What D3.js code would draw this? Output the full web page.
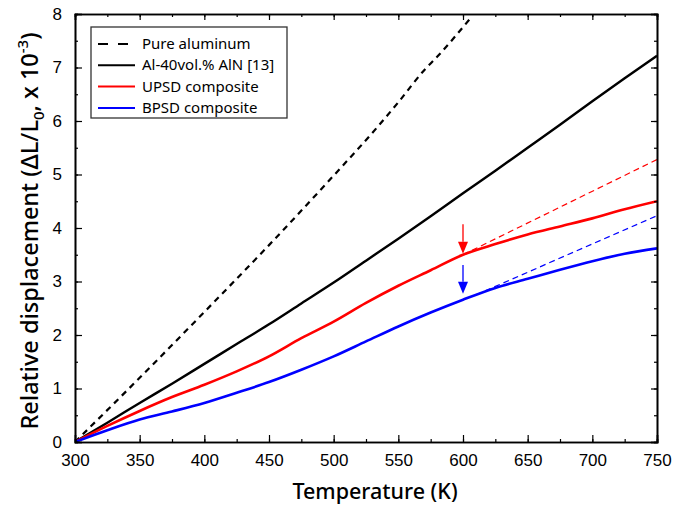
<!DOCTYPE html>
<html>
<head>
<meta charset="utf-8">
<script src="https://cdn.jsdelivr.net/npm/d3@7"></script>
<style>
  html, body { margin: 0; padding: 0; background: #fff; }
  svg { display: block; font-family: "Noto Sans", "Open Sans", sans-serif; }
</style>
</head>
<body>
<svg id="chart" width="689" height="509"></svg>
<script>
// Temperature grid (K) for the measured curves
const temps = [300, 325, 350, 375, 400, 425, 450, 475, 500, 525, 550, 575, 600, 625, 650, 675, 700, 725, 750];

// Pure aluminum (own temperature grid, stops near the top of the frame)
const pureAlTemps = [300, 350, 400, 450, 500, 535, 550, 570, 580, 605];
const pureAl      = [0, 1.20, 2.43, 3.68, 4.98, 5.92, 6.35, 6.95, 7.20, 7.90];

// Al-40vol.% AlN [13]
const alAlN = [0, 0.36, 0.73, 1.09, 1.46, 1.83, 2.20, 2.59, 2.98, 3.39, 3.80, 4.22, 4.65, 5.07, 5.50, 5.93, 6.37, 6.80, 7.22];
// UPSD composite
const upsd  = [0, 0.30, 0.58, 0.84, 1.07, 1.32, 1.60, 1.94, 2.25, 2.60, 2.92, 3.21, 3.50, 3.70, 3.88, 4.03, 4.18, 4.35, 4.50];
// BPSD composite
const bpsd  = [0, 0.22, 0.42, 0.57, 0.73, 0.92, 1.12, 1.35, 1.60, 1.88, 2.16, 2.42, 2.66, 2.88, 3.05, 3.22, 3.38, 3.52, 3.62];

// Linear extrapolations of the low-temperature behaviour
const upsdExtrapT = [600, 750];
const upsdExtrap  = [3.50, 5.28];
const bpsdExtrapT = [610, 750];
const bpsdExtrap  = [2.75, 4.23];

// Arrows marking the onset of deviation (temperature, start value, end value)
const arrowUpsd = [600, 4.07, 3.52];
const arrowBpsd = [600, 3.31, 2.77];

const xTicks = [300, 350, 400, 450, 500, 550, 600, 650, 700, 750];
const yTicks = [0, 1, 2, 3, 4, 5, 6, 7, 8];

const legendLabels = ["Pure aluminum", "Al-40vol.% AlN [13]", "UPSD composite", "BPSD composite"];
const legendColors = ["#000", "#000", "#ff0000", "#0000ff"];
const legendDash   = ["10,10", null, null, null];

const svg = d3.select("#chart");
const L = 75, R = 657, T = 14, B = 442;

const x = d3.scaleLinear().domain([300, 750]).range([L, R]);
const y = d3.scaleLinear().domain([0, 8]).range([B, T]);

const defs = svg.append("defs");
const clip = defs.append("clipPath").attr("id", "plotClip");
clip.append("rect").attr("x", L).attr("y", T).attr("width", R - L).attr("height", B - T);

const line = d3.line().x(d => x(d[0])).y(d => y(d[1])).curve(d3.curveMonotoneX);
const plot = svg.append("g").attr("clip-path", "url(#plotClip)");

// Extrapolation dashes
plot.append("path").datum(d3.zip(upsdExtrapT, upsdExtrap)).attr("d", line)
  .attr("fill", "none").attr("stroke", "#ff0000").attr("stroke-width", 1.2).attr("stroke-dasharray", "6,4");
plot.append("path").datum(d3.zip(bpsdExtrapT, bpsdExtrap)).attr("d", line)
  .attr("fill", "none").attr("stroke", "#0000ff").attr("stroke-width", 1.2).attr("stroke-dasharray", "6,4");

// Main curves
plot.append("path").datum(d3.zip(pureAlTemps, pureAl)).attr("d", line)
  .attr("fill", "none").attr("stroke", "#000").attr("stroke-width", 2.2).attr("stroke-dasharray", "6,5");
plot.append("path").datum(d3.zip(temps, alAlN)).attr("d", line)
  .attr("fill", "none").attr("stroke", "#000").attr("stroke-width", 2.4);
plot.append("path").datum(d3.zip(temps, upsd)).attr("d", line)
  .attr("fill", "none").attr("stroke", "#ff0000").attr("stroke-width", 2.6);
plot.append("path").datum(d3.zip(temps, bpsd)).attr("d", line)
  .attr("fill", "none").attr("stroke", "#0000ff").attr("stroke-width", 2.6);

// Arrows
[[arrowUpsd, "#ff0000"], [arrowBpsd, "#0000ff"]].forEach(([a, c]) => {
  svg.append("line")
    .attr("x1", x(a[0])).attr("x2", x(a[0]))
    .attr("y1", y(a[1])).attr("y2", y(a[2]) - 12)
    .attr("stroke", c).attr("stroke-width", 1.3);
  svg.append("path")
    .attr("d", `M${x(a[0]) - 5},${y(a[2]) - 12} L${x(a[0]) + 5},${y(a[2]) - 12} L${x(a[0])},${y(a[2])} Z`)
    .attr("fill", c);
});

// Axes with inward ticks, on all four sides
const xMinor = d3.range(300, 751, 25);
const yMinor = d3.range(0, 8.01, 0.5);
function addAxis(axis, tr) {
  const g = svg.append("g").attr("transform", tr).call(axis);
  g.select(".domain").attr("stroke-width", 1.6);
  g.selectAll(".tick line").attr("stroke-width", 1.2);
  return g;
}
// bottom
addAxis(d3.axisBottom(x).tickValues(xMinor).tickSize(-3).tickFormat(""), `translate(0,${B})`);
const xb = addAxis(d3.axisBottom(x).tickValues(xTicks).tickSize(-7).tickPadding(12), `translate(0,${B})`);
xb.selectAll("text").attr("font-size", 17).attr("fill", "#000");
// top
addAxis(d3.axisTop(x).tickValues(xMinor).tickSize(-3).tickFormat(""), `translate(0,${T})`);
addAxis(d3.axisTop(x).tickValues(xTicks).tickSize(-6).tickFormat(""), `translate(0,${T})`);
// left
addAxis(d3.axisLeft(y).tickValues(yMinor).tickSize(-3).tickFormat(""), `translate(${L},0)`);
const yl = addAxis(d3.axisLeft(y).tickValues(yTicks).tickSize(-7).tickPadding(13), `translate(${L},0)`);
yl.selectAll("text").attr("font-size", 17).attr("fill", "#000");
// right
addAxis(d3.axisRight(y).tickValues(yMinor).tickSize(-3).tickFormat(""), `translate(${R},0)`);
addAxis(d3.axisRight(y).tickValues(yTicks).tickSize(-6).tickFormat(""), `translate(${R},0)`);

// Axis titles
svg.append("text")
  .attr("x", 375).attr("y", 499)
  .attr("text-anchor", "middle").attr("font-size", 21.5).attr("font-weight", 500)
  .text("Temperature (K)");

const yt = svg.append("text")
  .attr("transform", `translate(38,${(T + B) / 2 + 3}) rotate(-90)`)
  .attr("text-anchor", "middle").attr("font-size", 23.5).attr("font-weight", 500);
yt.append("tspan").text("Relative displacement (ΔL/L");
yt.append("tspan").attr("font-size", 15).attr("dy", 6).text("0");
yt.append("tspan").attr("dy", -6).text(", x 10");
yt.append("tspan").attr("font-size", 15).attr("dy", -10).text("-3");
yt.append("tspan").attr("dy", 10).text(")");

// Legend
const lg = svg.append("g");
lg.append("rect").attr("x", 91).attr("y", 27).attr("width", 196).attr("height", 91)
  .attr("fill", "#fff").attr("stroke", "#333").attr("stroke-width", 1.3);
legendLabels.forEach((lab, i) => {
  const yy = 44 + i * 21.3;
  lg.append("line").attr("x1", 98).attr("x2", 135).attr("y1", yy).attr("y2", yy)
    .attr("stroke", legendColors[i]).attr("stroke-width", 2)
    .attr("stroke-dasharray", legendDash[i]);
  lg.append("text").attr("x", 142).attr("y", yy + 5)
    .attr("font-size", 15).attr("fill", "#000").text(lab);
});
</script>
</body>
</html>
